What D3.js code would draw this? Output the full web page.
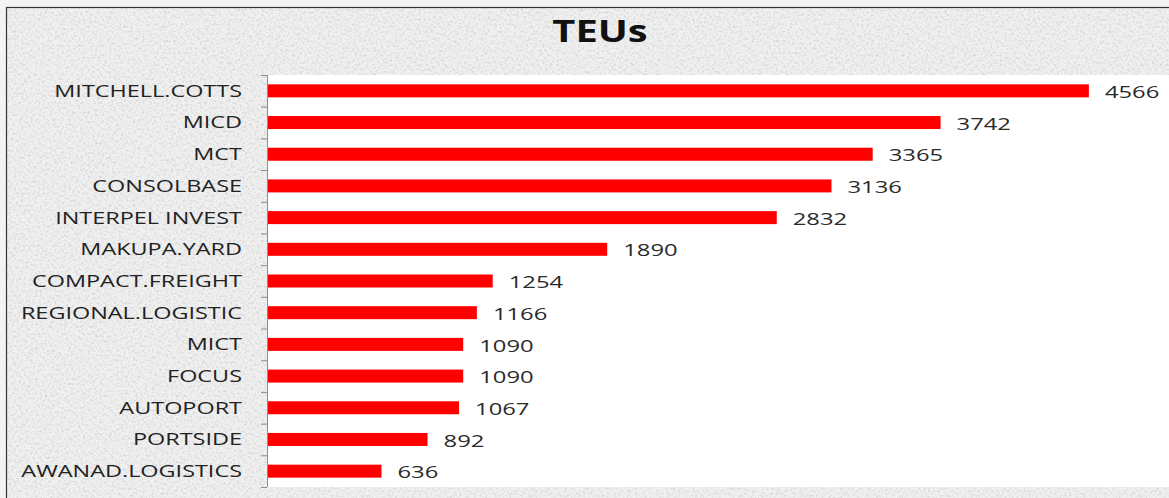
<!DOCTYPE html>
<html>
<head>
<meta charset="utf-8">
<script src="https://cdn.jsdelivr.net/npm/d3@7"></script>
<style>
  body { margin: 0; background: #f3f3f3; }
  svg { display: block; }
</style>
</head>
<body>
<svg id="chart"></svg>
<script>
var companies = ["MITCHELL.COTTS", "MICD", "MCT", "CONSOLBASE", "INTERPEL INVEST",
  "MAKUPA.YARD", "COMPACT.FREIGHT", "REGIONAL.LOGISTIC", "MICT", "FOCUS",
  "AUTOPORT", "PORTSIDE", "AWANAD.LOGISTICS"];
var teus = [4566, 3742, 3365, 3136, 2832, 1890, 1254, 1166, 1090, 1090, 1067, 892, 636];

var W = 1169, H = 498;
var margin = {top: 75, right: 2, bottom: 11, left: 267};
var width = W - margin.left - margin.right,
    height = H - margin.top - margin.bottom;
var stretch = 1.42; // text in the original is wide

var svg = d3.select("#chart").attr("width", W).attr("height", H);

// granite-like texture for the chart area
var defs = svg.append("defs");
var filt = defs.append("filter").attr("id", "grain")
  .attr("x", 0).attr("y", 0).attr("width", "100%").attr("height", "100%");
filt.append("feTurbulence")
  .attr("type", "fractalNoise")
  .attr("baseFrequency", 0.42)
  .attr("numOctaves", 3)
  .attr("seed", 7)
  .attr("result", "noise");
filt.append("feColorMatrix")
  .attr("in", "noise")
  .attr("type", "matrix")
  .attr("values", "0 0 0 0 0.6  0 0 0 0 0.6  0 0 0 0 0.6  -1.8 0 0 0 1.0");
filt.append("feComposite").attr("in2", "SourceGraphic").attr("operator", "in");

svg.append("rect")
  .attr("x", 6.5).attr("y", 7.5).attr("width", W).attr("height", H)
  .style("fill", "#f0f0f0");
svg.append("rect")
  .attr("x", 6.5).attr("y", 7.5).attr("width", W).attr("height", H)
  .style("fill", "#f0f0f0")
  .attr("filter", "url(#grain)");
svg.append("rect")
  .attr("x", 6.5).attr("y", 7.5).attr("width", W).attr("height", H)
  .style("fill", "none").style("stroke", "#333").style("stroke-width", 1.2);

var g = svg.append("g")
  .attr("transform", "translate(" + margin.left + "," + margin.top + ")");

g.append("rect")
  .attr("x", 0).attr("y", 0).attr("width", width + 10).attr("height", height)
  .style("fill", "#fff");

var xScale = d3.scaleLinear().domain([0, 5000]).range([0, 900]);
var step = height / companies.length;
var yScale = d3.scaleBand().domain(companies).range([0, height]);

// axis with ticks on band boundaries
var axis = g.append("g").attr("class", "y axis");
axis.append("line")
  .attr("x1", 0.5).attr("x2", 0.5).attr("y1", 0).attr("y2", height)
  .style("stroke", "#8c8c8c").style("stroke-width", 1);
axis.selectAll(".tick")
  .data(d3.range(companies.length + 1))
  .enter().append("line")
  .attr("x1", -6).attr("x2", 0)
  .attr("y1", function(i) { return i * step + 0.5; })
  .attr("y2", function(i) { return i * step + 0.5; })
  .style("stroke", "#8c8c8c");

axis.selectAll(".lbl")
  .data(companies)
  .enter().append("text")
  .attr("transform", function(d) {
    return "translate(-25," + (yScale(d) + step / 2) + ") scale(" + stretch + ",1)";
  })
  .attr("dy", "0.36em")
  .style("font-family", "'Open Sans', sans-serif")
  .style("font-size", "16.5px")
  .style("fill", "#222")
  .style("text-anchor", "end")
  .text(function(d) { return d; });

g.selectAll(".bar")
  .data(teus)
  .enter().append("rect")
  .attr("class", "bar")
  .attr("x", 1)
  .attr("y", function(d, i) { return yScale(companies[i]) + step / 2 - 6.5; })
  .attr("width", function(d) { return xScale(d) - 1; })
  .attr("height", 13)
  .style("fill", "#ff0000");

g.selectAll(".val")
  .data(teus)
  .enter().append("text")
  .attr("transform", function(d, i) {
    return "translate(" + (xScale(d) + 16) + "," + (yScale(companies[i]) + step / 2 + 1) + ") scale(1.4,1)";
  })
  .attr("dy", "0.36em")
  .style("font-family", "'Open Sans', sans-serif")
  .style("font-size", "17px")
  .style("fill", "#2a2a2a")
  .text(function(d) { return d; });

svg.append("text")
  .attr("transform", "translate(600,42) scale(1.33,1)")
  .style("font-family", "'Open Sans', sans-serif")
  .style("font-weight", "bold")
  .style("font-size", "30px")
  .style("fill", "#111")
  .style("text-anchor", "middle")
  .text("TEUs");
</script>
</body>
</html>
